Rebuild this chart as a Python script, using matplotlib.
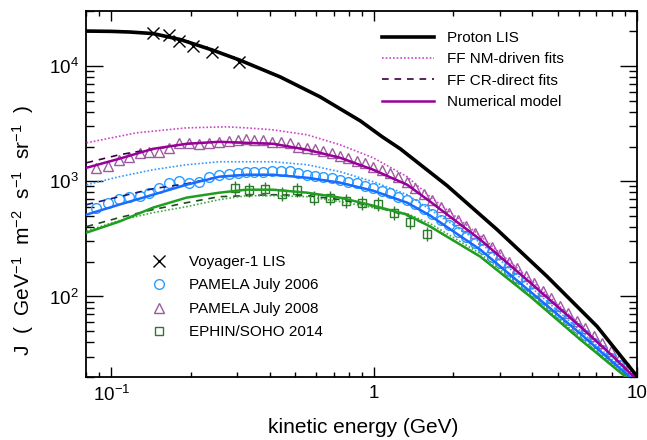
import matplotlib
matplotlib.use("Agg")
import matplotlib.pyplot as plt
from matplotlib.lines import Line2D
from matplotlib.ticker import FixedLocator, NullFormatter
import numpy as np

plt.rcParams['font.family'] = ['Liberation Sans', 'DejaVu Sans']
plt.rcParams['mathtext.fontset'] = 'custom'
plt.rcParams['mathtext.rm'] = 'Liberation Sans'
plt.rcParams['mathtext.it'] = 'Liberation Sans:italic'
plt.rcParams['mathtext.default'] = 'regular'

# ---------------- data (kinetic energy in GeV, J in GeV^-1 m^-2 s^-1 sr^-1) ----------------
# Proton LIS
lis_E = [0.0804, 0.100, 0.118, 0.144, 0.183, 0.242, 0.307, 0.439, 0.623, 0.885, 1.073,
         1.256, 1.895, 2.936, 4.549, 7.045, 10.0]
lis_J = [20090, 19970, 19700, 19110, 16960, 13760, 11270, 8030, 5390, 3340, 2428,
         1911, 914, 380, 149, 55.0, 20.3]

# Voyager-1 LIS data
voy_E = [0.144, 0.165, 0.181, 0.205, 0.242, 0.307]
voy_J = [19310, 18550, 16460, 14900, 13220, 10830]

# common energy grid of the model curves
curve_E = [0.0804, 0.107, 0.144, 0.193, 0.257, 0.326, 0.413, 0.556, 0.742, 0.991,
           1.335, 1.633, 2.53, 3.92, 6.07]

# PAMELA July 2008 (purple)
p08_model_E = curve_E + [8.10, 9.66, 10.0]
p08_model_J = [1309, 1566, 1911, 2112, 2198, 2154, 2112, 1874, 1597, 1258,
               932, 665, 312, 132, 55.0, 30.2, 20.3, 18.7]
p08_cr_E = [0.0804, 0.107, 0.1245, 0.144, 0.193] + curve_E[4:] + [8.10, 9.66, 10.0]
p08_cr_J = [1446, 1696, 1800, 1891, 2112, 2198, 2154, 2112, 1874, 1597, 1258,
            932, 665, 312, 132, 55.0, 30.2, 20.3, 18.7]
p08_nm_E = [0.0804, 0.1245, 0.193, 0.274, 0.326, 0.413, 0.556, 0.742, 0.991, 1.335,
            1.633, 2.53, 3.92, 6.07, 9.41, 10.0]
p08_nm_J = [2154, 2630, 2905, 2964, 2905, 2791, 2527, 2070, 1597, 1094,
            734, 337, 140, 57.2, 22.4, 19.5]

# PAMELA July 2006 (blue)
p06_model_E = curve_E + [8.10, 9.32, 10.0]
p06_model_J = [513, 626, 764, 932, 1094, 1138, 1138, 1072, 971, 827,
               651, 503, 255, 110.5, 47.8, 26.8, 20.3, 17.6]
p06_cr_E = curve_E + [8.10, 9.32, 10.0]
p06_cr_J = [626, 734, 861, 951, 1094, 1138, 1138, 1072, 971, 827,
            651, 503, 255, 110.5, 47.8, 26.8, 20.3, 17.6]
p06_nm_E = curve_E + [9.32, 10.0]
p06_nm_J = [932, 1094, 1258, 1390, 1475, 1475, 1475, 1390, 1209, 990,
            764, 567, 293.5, 122, 50.8, 21.0, 18.2]

# EPHIN/SOHO 2014 (green)
e14_model_E = curve_E + [9.00, 10.0]
e14_model_J = [358, 446, 590, 720, 795, 844, 844, 795, 720, 614,
               513, 404, 222, 100, 42.4, 20.3, 16.6]
e14_cr_E = curve_E + [9.00, 10.0]
e14_cr_J = [404, 483, 567, 651, 734, 749, 764, 749, 692, 607,
            503, 404, 222, 100, 42.4, 20.3, 16.6]
e14_nm_E = curve_E + [9.00, 10.0]
e14_nm_J = [370, 455, 534, 601, 692, 749, 749, 734, 665, 590,
            523, 429, 236, 106, 44.2, 20.7, 17.2]

# PAMELA energy bins
pam_E = [0.0877, 0.0974, 0.107, 0.117, 0.128, 0.139, 0.152, 0.166, 0.181, 0.198,
         0.216, 0.236, 0.257, 0.281, 0.304, 0.326, 0.350, 0.378, 0.409, 0.443,
         0.479, 0.514, 0.556, 0.597, 0.641, 0.692, 0.743, 0.797, 0.862, 0.924,
         0.991, 1.07, 1.15, 1.23, 1.33, 1.43, 1.55, 1.66, 1.80, 1.93,
         2.09, 2.24, 2.42, 2.60, 2.81, 3.01, 3.26, 3.50, 3.78, 4.06,
         4.39, 4.71, 5.10, 5.47, 5.91, 6.34, 6.86, 7.36, 7.96, 8.54, 9.24]
pam06_J = [590, 651, 705, 734, 749, 795, 878, 970, 1010, 970,
           990, 1094, 1138, 1161, 1185, 1209, 1209, 1209, 1233, 1233,
           1233, 1185, 1138, 1116, 1094, 1072, 1030, 990, 970, 914,
           878, 827, 795, 734, 692, 632, 571, 519, 460, 413,
           365, 328, 290, 258, 222, 194, 167, 146, 126, 110,
           94.4, 82.6, 71.0, 62.1, 53.4, 46.5, 39.7, 34.5, 29.5, 25.6, 21.9]
pam08_J = [1309, 1362, 1535, 1630, 1766, 1800, 1800, 1950, 2154, 2154,
           2112, 2154, 2198, 2242, 2287, 2333, 2287, 2287, 2198, 2198,
           2154, 1990, 1950, 1911, 1837, 1766, 1663, 1597, 1505, 1446,
           1335, 1258, 1185, 1094, 990, 880, 772, 685, 597, 529,
           461, 408, 357, 314, 269, 235, 201, 176, 150, 131,
           112, 97.1, 82.9, 72.1, 61.5, 53.4, 45.3, 39.2, 33.4, 28.5, 23.8]

# EPHIN/SOHO 2014 data
eph_E = [0.294, 0.335, 0.385, 0.447, 0.510, 0.591, 0.681, 0.783, 0.900, 1.036,
         1.191, 1.370, 1.591]
eph_J = [878, 844, 861, 780, 844, 720, 720, 678, 651, 639, 534, 446, 351]
eph_err = [0.15] * 13   # relative error

x_ticks = [0.1, 1, 10]
x_ticklabels = [r'$10^{-1}$', '1', '10']
y_ticks = [1e2, 1e3, 1e4]
y_ticklabels = [r'$10^{2}$', r'$10^{3}$', r'$10^{4}$']
x_minor = [m * 10.0 ** d for d in (-2, -1, 0) for m in range(2, 10)]
y_minor = [m * 10.0 ** d for d in (1, 2, 3, 4) for m in range(2, 10)]

# ---------------- colours / styles ----------------
c_purple = '#990099'
c_purple_dot = '#cc44cc'
c_purple_dash = '#3a0040'
c_blue = '#1a6cff'
c_blue_dot = '#3399ff'
c_blue_dash = '#1a1a80'
c_green = '#1f9e1f'
c_green_dot = '#44aa44'
c_green_dash = '#1a4d1a'
dot = (0, (1, 1.2))
dash = (0, (4, 3.5))

fig = plt.figure(figsize=(6.47, 4.40), dpi=100)
ax = fig.add_axes([86 / 647, 63 / 440, 551 / 647, 366 / 440])
ax.set_xscale('log')
ax.set_yscale('log')

# data points
ax.plot(pam_E, pam08_J, linestyle='none', marker='^', ms=6.5, mfc='none',
        mec='#9e5a9e', mew=1.0, zorder=2)
ax.plot(pam_E, pam06_J, linestyle='none', marker='o', ms=7, mfc='none',
        mec='#2a9dff', mew=1.0, zorder=2)
eph_J_a = np.array(eph_J)
eph_err_a = np.array(eph_err)
ax.errorbar(eph_E, eph_J, yerr=[eph_J_a - eph_J_a / (1 + eph_err_a), eph_J_a * eph_err_a],
            linestyle='none', marker='s', ms=5.5, mfc='none', mec='#2d7a2d', mew=1.0,
            ecolor='#2d7a2d', elinewidth=1.0, capsize=0, zorder=2)

# model curves
lw_s = 1.8
lw_t = 1.2
for E, J, c in [(p08_cr_E, p08_cr_J, c_purple_dash), (p06_cr_E, p06_cr_J, c_blue_dash),
                (e14_cr_E, e14_cr_J, c_green_dash)]:
    ax.plot(E, J, color=c, lw=lw_t, linestyle=dash, zorder=3)
for E, J, c in [(p08_nm_E, p08_nm_J, c_purple_dot), (p06_nm_E, p06_nm_J, c_blue_dot),
                (e14_nm_E, e14_nm_J, c_green_dot)]:
    ax.plot(E, J, color=c, lw=lw_t, linestyle=dot, zorder=3)
for E, J, c in [(p08_model_E, p08_model_J, c_purple), (p06_model_E, p06_model_J, c_blue),
                (e14_model_E, e14_model_J, c_green)]:
    ax.plot(E, J, color=c, lw=lw_s, zorder=4)

ax.plot(lis_E, lis_J, color='black', lw=2.6, zorder=5)
ax.plot(voy_E, voy_J, linestyle='none', marker='x', ms=8, mec='black', mew=1.0, zorder=6)

# axes styling
ax.xaxis.set_major_locator(FixedLocator(x_ticks))
ax.yaxis.set_major_locator(FixedLocator(y_ticks))
ax.xaxis.set_minor_locator(FixedLocator(x_minor))
ax.yaxis.set_minor_locator(FixedLocator(y_minor))
ax.set_xticklabels(x_ticklabels)
ax.set_yticklabels(y_ticklabels)
ax.xaxis.set_minor_formatter(NullFormatter())
ax.yaxis.set_minor_formatter(NullFormatter())
ax.set_xlim(0.08, 10)
ax.set_ylim(20, 3e4)
for s in ax.spines.values():
    s.set_linewidth(1.3)
ax.tick_params(axis='both', which='both', direction='in', top=True, right=True,
               labelsize=13.5, colors='black')
ax.tick_params(axis='x', which='major', length=7, width=1.0, pad=6)
ax.tick_params(axis='x', which='minor', length=3.5, width=1.0)
ax.tick_params(axis='y', which='major', length=12, width=1.0, pad=5)
ax.tick_params(axis='y', which='minor', length=6, width=1.0)

fig.text(363 / 647, 1 - 427 / 440, 'kinetic energy (GeV)', ha='center', va='center',
         fontsize=15)
fig.text(23 / 647, 1 - 230 / 440,
         r'J  (  GeV$^{-1}$  m$^{-2}$  s$^{-1}$  sr$^{-1}$  )',
         ha='center', va='center', rotation=90, fontsize=15)

# legends
h1 = [Line2D([], [], color='black', lw=2.6),
      Line2D([], [], color=c_purple_dot, lw=lw_t, linestyle=dot),
      Line2D([], [], color=c_purple_dash, lw=lw_t, linestyle=dash),
      Line2D([], [], color=c_purple, lw=lw_s)]
l1 = ['Proton LIS', 'FF NM-driven fits', 'FF CR-direct fits', 'Numerical model']
leg1 = ax.legend(h1, l1, loc='upper left', bbox_to_anchor=((382 - 86) / 551, (377 - 31) / 366),
                 frameon=False, fontsize=11, handlelength=3.4, handletextpad=0.85,
                 labelspacing=0.48, borderpad=0, borderaxespad=0)
ax.add_artist(leg1)

h2 = [Line2D([], [], linestyle='none', marker='x', ms=8, mec='black', mew=1.0),
      Line2D([], [], linestyle='none', marker='o', ms=7, mfc='none', mec='#2a9dff', mew=1.0),
      Line2D([], [], linestyle='none', marker='^', ms=6.5, mfc='none', mec='#9e5a9e', mew=1.0),
      Line2D([], [], linestyle='none', marker='s', ms=5.5, mfc='none', mec='#2d7a2d', mew=1.0)]
l2 = ['Voyager-1 LIS', 'PAMELA July 2006', 'PAMELA July 2008', 'EPHIN/SOHO 2014']
ax.legend(h2, l2, loc='upper left', bbox_to_anchor=((144 - 86) / 551, (377 - 255) / 366),
          frameon=False, fontsize=11, handlelength=1.9, handletextpad=1.05,
          labelspacing=0.62, borderpad=0, borderaxespad=0)

fig.savefig('out.png', dpi=100)
